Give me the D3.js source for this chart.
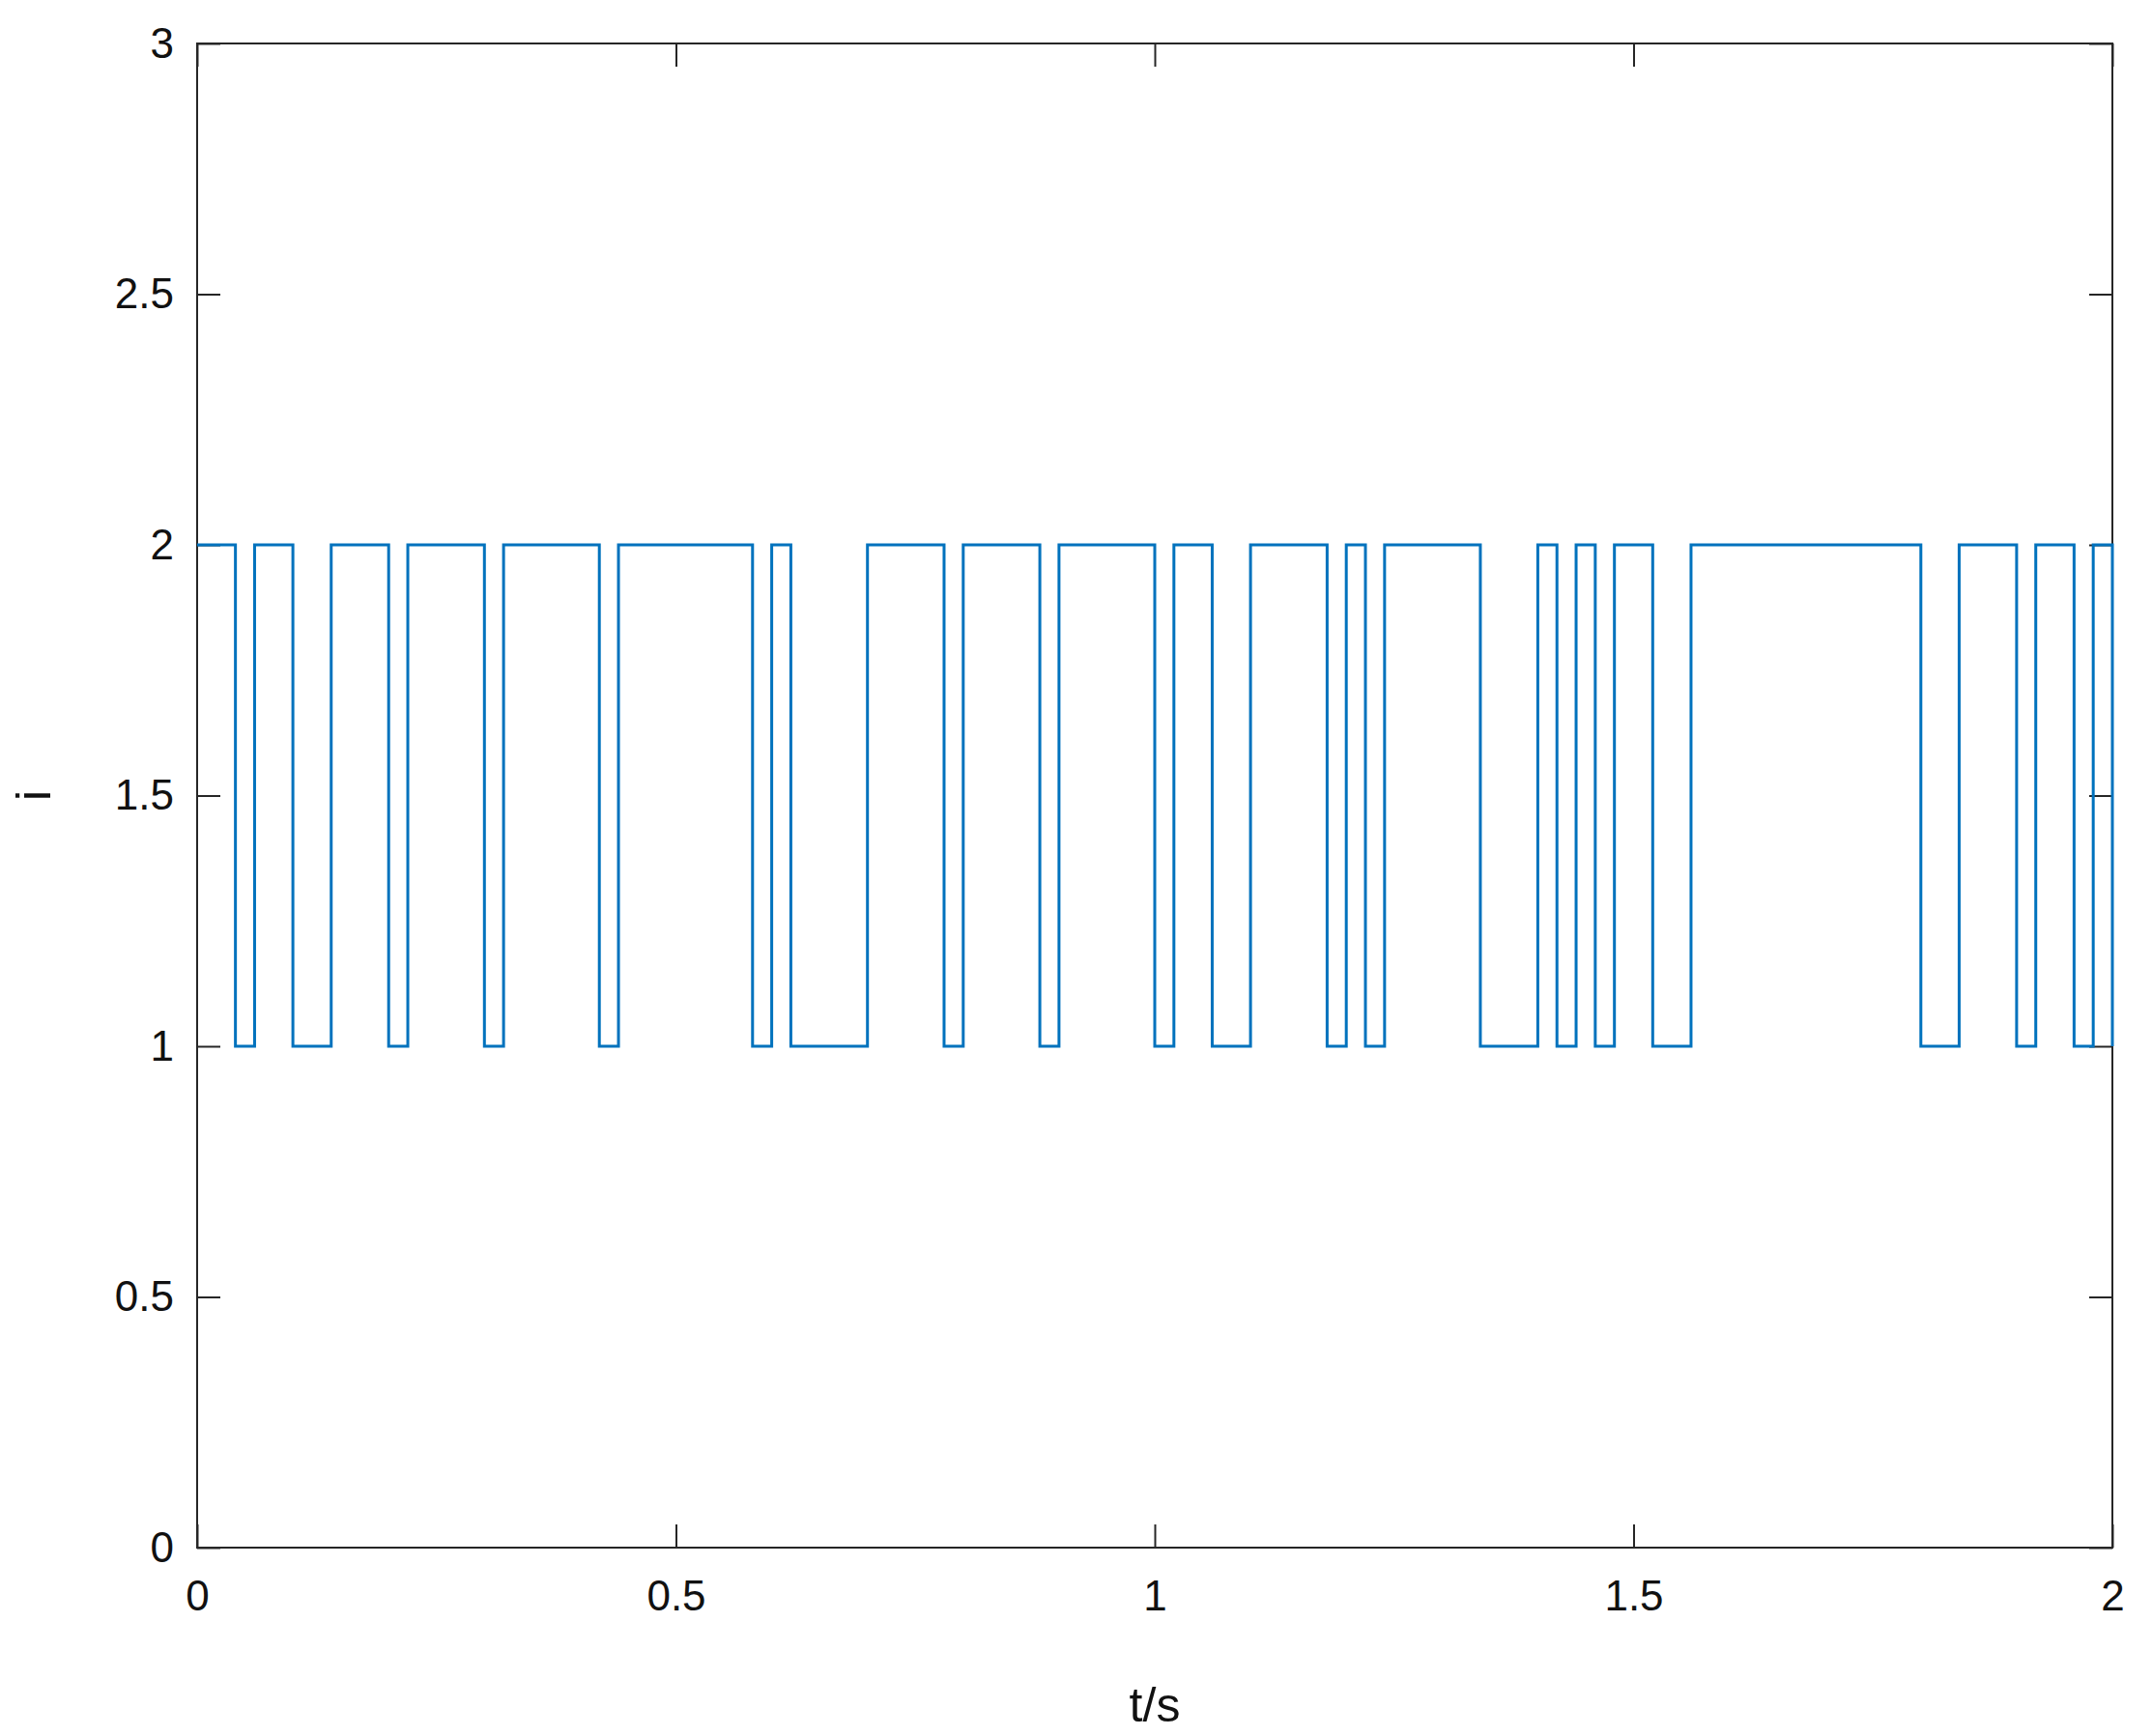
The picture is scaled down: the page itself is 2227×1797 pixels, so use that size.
<!DOCTYPE html>
<html>
<head>
<meta charset="UTF-8">
<script src="https://d3js.org/d3.v7.min.js"></script>
<style>
  body { margin: 0; background: #fff; }
  svg { font-family: "Liberation Sans", Arial, sans-serif; }
</style>
</head>
<body>
<svg width="2227" height="1797"></svg>
<script>
// switching instants (s) and the level held from each instant on
const times  = [0, 0.04, 0.06, 0.10, 0.14, 0.20, 0.22, 0.30, 0.32, 0.42, 0.44,
                0.58, 0.60, 0.62, 0.70, 0.78, 0.80, 0.88, 0.90, 1.00, 1.02,
                1.06, 1.10, 1.18, 1.20, 1.22, 1.24, 1.34, 1.40, 1.42, 1.44,
                1.46, 1.48, 1.52, 1.56, 1.80, 1.84, 1.90, 1.92, 1.96, 1.98, 2.0];
const levels = [2, 1, 2, 1, 2, 1, 2, 1, 2, 1, 2,
                1, 2, 1, 2, 1, 2, 1, 2, 1, 2,
                1, 2, 1, 2, 1, 2, 1, 2, 1, 2,
                1, 2, 1, 2, 1, 2, 1, 2, 1, 2, 1];
const xTicks = [0, 0.5, 1, 1.5, 2];
const yTicks = [0, 0.5, 1, 1.5, 2, 2.5, 3];

const svg = d3.select("svg");
const plot = { left: 204, right: 2186, top: 45, bottom: 1602 };

const x = d3.scaleLinear().domain([0, 2]).range([plot.left, plot.right]);
const y = d3.scaleLinear().domain([0, 3]).range([plot.bottom, plot.top]);
const axisColor = "#262626";

// box
svg.append("rect")
    .attr("x", plot.left).attr("y", plot.top)
    .attr("width", plot.right - plot.left).attr("height", plot.bottom - plot.top)
    .attr("fill", "none").attr("stroke", axisColor).attr("stroke-width", 2);

function styleAxis(g) {
    g.select(".domain").remove();
    g.selectAll("line").attr("stroke", axisColor).attr("stroke-width", 2);
    g.selectAll("text").attr("fill", "#111").attr("font-size", 44);
}

const fmt = d => d3.format("")(d);
svg.append("g").attr("transform", `translate(0,${plot.bottom})`)
    .call(d3.axisTop(x).tickValues(xTicks).tickSize(24).tickFormat(""))
    .call(styleAxis);
svg.append("g").attr("transform", `translate(0,${plot.bottom})`)
    .call(d3.axisBottom(x).tickValues(xTicks).tickSize(0).tickPadding(34).tickFormat(fmt))
    .call(styleAxis);
svg.append("g").attr("transform", `translate(0,${plot.top})`)
    .call(d3.axisBottom(x).tickValues(xTicks).tickSize(24).tickFormat(""))
    .call(styleAxis);
svg.append("g").attr("transform", `translate(${plot.left},0)`)
    .call(d3.axisRight(y).tickValues(yTicks).tickSize(24).tickFormat(""))
    .call(styleAxis);
svg.append("g").attr("transform", `translate(${plot.left},0)`)
    .call(d3.axisLeft(y).tickValues(yTicks).tickSize(0).tickPadding(24).tickFormat(fmt))
    .call(styleAxis);
svg.append("g").attr("transform", `translate(${plot.right},0)`)
    .call(d3.axisLeft(y).tickValues(yTicks).tickSize(24).tickFormat(""))
    .call(styleAxis);

// step signal
const data = times.map((t, i) => ({ t, v: levels[i] }));
const line = d3.line().x(d => x(d.t)).y(d => y(d.v)).curve(d3.curveStepAfter);
svg.append("path")
    .datum(data)
    .attr("d", line)
    .attr("fill", "none")
    .attr("stroke", "#0072BD")
    .attr("stroke-width", 3);

// labels
svg.append("text")
    .attr("x", (plot.left + plot.right) / 2).attr("y", 1782)
    .attr("text-anchor", "middle").attr("font-size", 50).attr("fill", "#111")
    .text("t/s");
svg.append("text")
    .attr("transform", `translate(52,${y(1.5)}) rotate(-90)`)
    .attr("text-anchor", "middle").attr("font-size", 50).attr("fill", "#111")
    .text("i");
</script>
</body>
</html>
